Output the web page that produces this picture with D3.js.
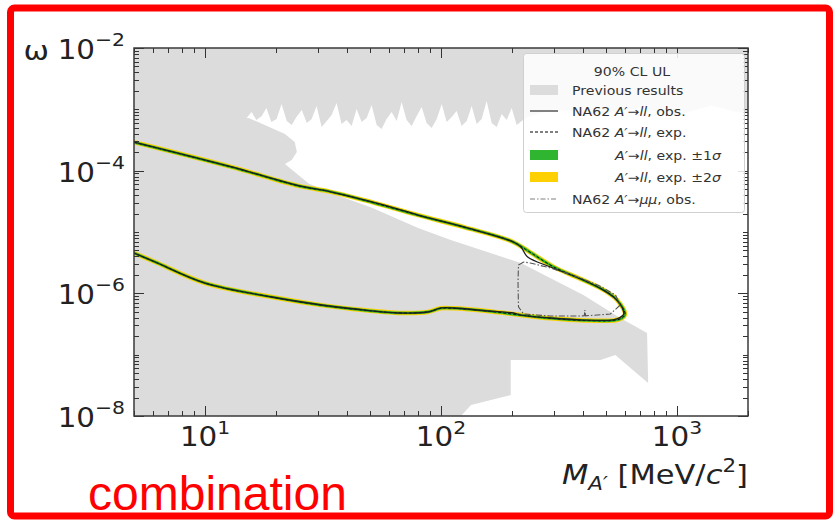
<!DOCTYPE html>
<html><head><meta charset="utf-8">
<script src="https://cdn.jsdelivr.net/npm/d3@7"></script>
<style>
body{margin:0;background:#fff;}
svg{display:block;font-family:"DejaVu Sans",sans-serif;}
</style>
</head><body>
<svg id="c" width="836" height="520"></svg>
<script>
// ---------- data ----------
const xDomain = [5, 2000];          // M_A' [MeV/c^2]
const yDomain = [1e-8, 1e-2];       // epsilon^2
const xMajorTicks = [10, 100, 1000];
const xTickExp = ["1", "2", "3"];
const yMajorTicks = [1e-2, 1e-4, 1e-6, 1e-8];
const yTickExp = ["\u22122", "\u22124", "\u22126", "\u22128"];

// Previous results (grey excluded region) boundary pieces
const prevCorners = [[5, 1e-2], [2000, 1e-2], [2000, 9e-4]];
const prevUnderLegend = [[1800, 9e-4], [1400, 1.15e-3], [1000, 8e-4], [700, 1.05e-3], [450, 8.2e-4], [300, 1.0e-3], [235, 7.6e-4]];
const prevJagMass = [15, 15.75, 16.5, 17.4, 18.2, 19.1, 20.1, 21.1, 22.2, 23.3, 24.4, 25.7, 27.0, 28.3, 29.7, 31.2, 32.8, 34.4, 36.1, 37.9, 39.8, 41.8, 43.9, 46.1, 48.4, 50.8, 53.4, 56.0, 58.8, 61.8, 64.9, 68.1, 71.5, 75.1, 78.9, 82.8, 86.9, 91.3, 95.9, 100.7, 105.7, 111, 116.5, 122.3, 128.5, 134.9, 141.6, 148.7, 156.1, 164, 172.2, 180.8, 189.8, 199.3, 209.3, 219.8];
const prevJagEps = [7.22e-4, 9.05e-4, 6.7e-4, 7.8e-4, 1.05e-3, 6.21e-4, 6.96e-4, 1.22e-3, 6.45e-4, 5.56e-4, 7.5e-4, 9.75e-4, 5.98e-4, 6.96e-4, 1.13e-3, 5.15e-4, 6.45e-4, 8.09e-4, 1.27e-3, 5.76e-4, 6.7e-4, 5.35e-4, 1.01e-3, 6.21e-4, 7.22e-4, 1.18e-3, 5.56e-4, 4.78e-4, 6.96e-4, 9.05e-4, 6.45e-4, 1.32e-3, 6.7e-4, 5.35e-4, 7.8e-4, 1.09e-3, 5.98e-4, 4.96e-4, 6.96e-4, 1.22e-3, 6.21e-4, 7.5e-4, 9.4e-4, 5.35e-4, 6.45e-4, 1.13e-3, 5.76e-4, 6.96e-4, 1.37e-3, 5.98e-4, 5.15e-4, 8.4e-4, 6.7e-4, 1.05e-3, 5.56e-4, 6.45e-4];
const prevLower = [[15.3, 7.22e-4], [18.3, 5.35e-4], [21.8, 3.96e-4], [24.0, 2.93e-4], [24.5, 2.01e-4], [23.3, 1.49e-4], [21.8, 1.28e-4], [27.5, 6.2e-5], [34.4, 4.3e-5], [50.7, 2.5e-5], [80, 1.16e-5], [110, 7.4e-6], [218, 3.12e-6], [401, 9.4e-7], [575, 3.96e-7], [747, 2.25e-7], [755, 3.45e-8], [665, 5.2e-8], [548, 9.9e-8], [474, 8.2e-8], [197.5, 8.2e-8], [197.5, 2.2e-8], [162.6, 1.82e-8], [134, 1.51e-8], [121.5, 1e-8], [5, 1e-8]];

// NA62 A'->ll observed contour (upper branch -> tip -> lower branch)
const obsMass = [5, 13.0, 24.9, 33.4, 47.3, 61.5, 80, 125, 203, 218, 233, 291, 401, 487, 540, 575, 592, 594, 575, 537, 401, 291, 218, 203, 158, 113, 100, 88, 66, 43, 31.2, 19.2, 10, 6.15, 5];
const obsEps = [2.93e-4, 1.15e-4, 5.7e-5, 4.6e-5, 3.33e-5, 2.55e-5, 1.89e-5, 1.21e-5, 6.87e-6, 5.69e-6, 3.91e-6, 2.69e-6, 1.65e-6, 1.13e-6, 8.6e-7, 6.6e-7, 5.3e-7, 4.5e-7, 4.05e-7, 3.7e-7, 3.67e-7, 3.96e-7, 4.43e-7, 4.78e-7, 5.15e-7, 5.77e-7, 5.77e-7, 4.96e-7, 4.78e-7, 5.55e-7, 6.45e-7, 8.71e-7, 1.47e-6, 3.24e-6, 4.54e-6];

// NA62 A'->ll expected contour (median)
const expMass = [5, 13, 24.9, 33.4, 47.3, 80, 125, 200, 240, 300, 400, 490, 545, 580, 598, 602, 585, 540, 400, 290, 220, 160, 113, 100, 88, 66, 43, 31, 19.2, 10, 6.15, 5];
const expEps = [2.9e-4, 1.14e-4, 5.65e-5, 4.6e-5, 3.3e-5, 1.88e-5, 1.2e-5, 7.0e-6, 4.6e-6, 2.7e-6, 1.65e-6, 1.13e-6, 8.5e-7, 6.4e-7, 5.2e-7, 4.5e-7, 3.95e-7, 3.62e-7, 3.62e-7, 3.92e-7, 4.4e-7, 5.1e-7, 5.7e-7, 5.7e-7, 4.98e-7, 4.8e-7, 5.52e-7, 6.42e-7, 8.7e-7, 1.47e-6, 3.24e-6, 4.54e-6];

// NA62 A'->mumu observed contour
const mumuMass = [224, 213, 212, 213, 224, 291, 386, 405, 407, 410, 522, 575, 549, 473, 390, 291, 239, 224];
const mumuEps = [3.24e-6, 2.9e-6, 1.5e-6, 6.0e-7, 4.6e-7, 4.27e-7, 4.27e-7, 4.3e-7, 5.35e-7, 4.3e-7, 4.6e-7, 6.45e-7, 9.4e-7, 1.31e-6, 1.78e-6, 2.59e-6, 3.12e-6, 3.24e-6];

// ---------- layout ----------
const P = {l: 134, r: 748, t: 48, b: 416};
const SX = 1.13;   // horizontal stretch of the original figure's text
const svg = d3.select("#c");
const x = d3.scaleLog().domain(xDomain).range([P.l, P.r]);
const y = d3.scaleLog().domain(yDomain).range([P.b, P.t]);

// red frame
svg.append("rect").attr("x", 10.5).attr("y", 8).attr("width", 819).attr("height", 508)
  .attr("rx", 4).attr("fill", "none").attr("stroke", "#ff0000").attr("stroke-width", 7);

svg.append("defs").append("clipPath").attr("id", "clip").append("rect")
  .attr("x", P.l).attr("y", P.t).attr("width", P.r - P.l).attr("height", P.b - P.t);
const g = svg.append("g").attr("clip-path", "url(#clip)");

const zip = (a, b) => a.map((v, i) => [v, b[i]]);
const lin = d3.line().x(d => x(d[0])).y(d => y(d[1]));
const smooth = d3.line().x(d => x(d[0])).y(d => y(d[1])).curve(d3.curveCatmullRom.alpha(0.5));

// previous results
const jag = zip(prevJagMass, prevJagEps);
const prevPoly = [...prevCorners, ...prevUnderLegend, ...jag.slice().reverse(), ...prevLower];
g.append("path").attr("d", lin(prevPoly) + "Z").attr("fill", "#dcdcdc");

// expected bands (drawn along the expected contour)
const expPts = zip(expMass, expEps);
g.append("path").attr("d", smooth(expPts)).attr("fill", "none").attr("stroke", "#ffd000")
  .attr("stroke-width", 4.5).attr("stroke-linejoin", "round").attr("stroke-linecap", "round");
g.append("path").attr("d", smooth(expPts)).attr("fill", "none").attr("stroke", "#2fb52f")
  .attr("stroke-width", 2.6).attr("stroke-linejoin", "round").attr("stroke-linecap", "round");
g.append("path").attr("d", smooth(expPts)).attr("fill", "none").attr("stroke", "#000")
  .attr("stroke-width", 0.9).attr("stroke-dasharray", "3,2");

// observed ll
g.append("path").attr("d", smooth(zip(obsMass, obsEps))).attr("fill", "none")
  .attr("stroke", "#1e1e1e").attr("stroke-width", 1.3);

// observed mumu
g.append("path").attr("d", lin(zip(mumuMass, mumuEps))).attr("fill", "none")
  .attr("stroke", "#555").attr("stroke-width", 1.1).attr("stroke-dasharray", "6,2,1.5,2");

// ---------- axes / ticks ----------
const near = (arr, v) => arr.some(a => Math.abs(Math.log10(a) - Math.log10(v)) < 1e-9);
const tg = svg.append("g").attr("stroke", "#333").attr("stroke-width", 1);
x.ticks().forEach(v => {
  const L = near(xMajorTicks, v) ? 10 : 5;
  const px = Math.round(x(v)) + 0.5;
  tg.append("line").attr("x1", px).attr("x2", px).attr("y1", P.b).attr("y2", P.b - L);
  tg.append("line").attr("x1", px).attr("x2", px).attr("y1", P.t).attr("y2", P.t + L);
});
y.ticks().forEach(v => {
  const L = near(yMajorTicks, v) ? 10 : 5;
  const py = Math.round(y(v)) + 0.5;
  tg.append("line").attr("y1", py).attr("y2", py).attr("x1", P.l).attr("x2", P.l + L);
  tg.append("line").attr("y1", py).attr("y2", py).attr("x1", P.r).attr("x2", P.r - L);
});
svg.append("rect").attr("x", P.l).attr("y", P.t).attr("width", P.r - P.l).attr("height", P.b - P.t)
  .attr("fill", "none").attr("stroke", "#3a3a3a").attr("stroke-width", 1.5);

const place = (sel, X, Y) => sel.attr("transform", `translate(${X},${Y}) scale(${SX},1)`);

// tick labels
xMajorTicks.forEach((v, i) => {
  const t = place(svg.append("text"), x(v), 446).attr("text-anchor", "middle")
    .attr("font-size", 26).attr("fill", "#222");
  t.append("tspan").text("10");
  t.append("tspan").attr("dy", -12).attr("font-size", 18).text(xTickExp[i]);
});
yMajorTicks.forEach((v, i) => {
  const t = place(svg.append("text"), 125, y(v) + 11).attr("text-anchor", "end")
    .attr("font-size", 26).attr("fill", "#222");
  t.append("tspan").text("10");
  t.append("tspan").attr("dy", -13).attr("font-size", 18).text(yTickExp[i]);
});

// axis labels
place(svg.append("text"), 49, 60).attr("text-anchor", "end")
  .attr("font-size", 27).attr("fill", "#222").text("\u03c9");
const xl = place(svg.append("text"), P.r, 484).attr("text-anchor", "end")
  .attr("font-size", 27).attr("fill", "#222");
xl.append("tspan").attr("font-style", "italic").text("M");
xl.append("tspan").attr("font-style", "italic").attr("font-size", 19).attr("dy", 6).text("A\u2032");
xl.append("tspan").attr("dy", -6).text(" [MeV/");
xl.append("tspan").attr("font-style", "italic").text("c");
xl.append("tspan").attr("font-size", 19).attr("dy", -12).text("2");
xl.append("tspan").attr("dy", 12).text("]");

// "combination"
svg.append("text").attr("x", 88).attr("y", 510).attr("font-family", "'Liberation Sans', Arial, sans-serif")
  .attr("font-size", 48).attr("fill", "#ff0000").text("combination");

// ---------- legend ----------
const lg = svg.append("g").attr("font-size", 12.5).attr("fill", "#333");
lg.append("rect").attr("x", 523.5).attr("y", 53.5).attr("width", 221).attr("height", 159).attr("rx", 3)
  .attr("fill", "#fff").attr("fill-opacity", 0.85).attr("stroke", "#d0d0d0");
place(lg.append("text"), 632, 76).attr("text-anchor", "middle").text("90% CL UL");
const rows = [90, 111, 132, 155, 177, 199];
lg.append("rect").attr("x", 530).attr("y", rows[0] - 5).attr("width", 28).attr("height", 10).attr("fill", "#dcdcdc");
lg.append("line").attr("x1", 530).attr("x2", 558).attr("y1", rows[1]).attr("y2", rows[1]).attr("stroke", "#808080").attr("stroke-width", 2);
lg.append("line").attr("x1", 530).attr("x2", 558).attr("y1", rows[2]).attr("y2", rows[2]).attr("stroke", "#000").attr("stroke-width", 1).attr("stroke-dasharray", "3,2");
lg.append("rect").attr("x", 530).attr("y", rows[3] - 5).attr("width", 28).attr("height", 10).attr("fill", "#2fb52f");
lg.append("rect").attr("x", 530).attr("y", rows[4] - 5).attr("width", 28).attr("height", 10).attr("fill", "#ffd000");
lg.append("line").attr("x1", 530).attr("x2", 558).attr("y1", rows[5]).attr("y2", rows[5]).attr("stroke", "#808080").attr("stroke-width", 1.2).attr("stroke-dasharray", "5,2,1.5,2");

function entry(xp, yp, parts) {
  const t = place(lg.append("text"), xp, yp + 4.5);
  parts.forEach(p => { const s = t.append("tspan").text(p[0]); if (p[1]) s.attr("font-style", "italic"); });
}
entry(572, rows[0], [["Previous results"]]);
entry(572, rows[1], [["NA62 "], ["A\u2032", 1], ["\u2192"], ["ll", 1], [", obs."]]);
entry(572, rows[2], [["NA62 "], ["A\u2032", 1], ["\u2192"], ["ll", 1], [", exp."]]);
entry(615, rows[3], [["A\u2032", 1], ["\u2192"], ["ll", 1], [", exp. \u00b11"], ["\u03c3", 1]]);
entry(615, rows[4], [["A\u2032", 1], ["\u2192"], ["ll", 1], [", exp. \u00b12"], ["\u03c3", 1]]);
entry(572, rows[5], [["NA62 "], ["A\u2032", 1], ["\u2192"], ["\u03bc\u03bc", 1], [", obs."]]);
</script>
</body></html>
